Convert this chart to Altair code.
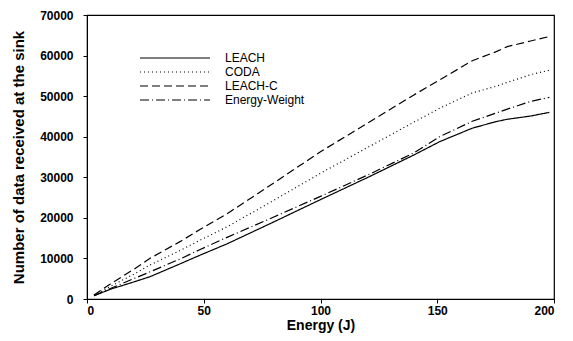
import altair as alt
import pandas as pd

energy = [3, 10, 20, 27, 40, 48, 60, 80, 100, 120, 140, 151, 165, 175, 180, 190, 198]
leach = [800, 2400, 4200, 5500, 8700, 10700, 13600, 19000, 24500, 29900, 35500, 38770, 42100, 43700, 44300, 45100, 46000]
coda = [900, 3100, 6100, 8380, 12000, 14370, 17800, 24300, 31000, 37300, 43600, 47000, 50800, 52400, 53400, 55300, 56400]
leach_c = [1000, 3700, 7300, 10020, 14200, 17000, 21000, 28600, 36300, 43300, 50300, 53980, 58740, 60900, 62200, 63600, 64700]
energy_weight = [800, 2600, 5000, 6700, 9900, 12080, 15200, 20200, 25300, 30500, 36000, 40000, 43800, 45800, 46800, 48700, 49700]

series_names = ["LEACH", "CODA", "LEACH-C", "Energy-Weight"]
series_values = [leach, coda, leach_c, energy_weight]
dashes = [[1, 0], [1, 3], [8, 4], [9, 3, 1, 3]]

rows = []
for name, vals in zip(series_names, series_values):
    for e, v in zip(energy, vals):
        rows.append({"Energy": e, "Value": v, "Series": name})
df = pd.DataFrame(rows)

font = "Liberation Sans"

chart = alt.Chart(df).mark_line(color="black", strokeWidth=1.2).encode(
    x=alt.X("Energy:Q", title="Energy (J)",
            scale=alt.Scale(domain=[0, 200], nice=False),
            axis=alt.Axis(values=[0, 50, 100, 150, 200], format="d", grid=False,
                          tickSize=4, labelPadding=2, titlePadding=2,
                          labelFontSize=12, titleFontSize=14)),
    y=alt.Y("Value:Q", title="Number of data received at the sink",
            scale=alt.Scale(domain=[0, 70000], nice=False),
            axis=alt.Axis(values=list(range(0, 70001, 10000)), format="d", grid=False,
                          tickSize=4, labelPadding=10, titlePadding=13,
                          labelFontSize=12, titleFontSize=15)),
    strokeDash=alt.StrokeDash("Series:N",
                              scale=alt.Scale(domain=series_names, range=dashes),
                              legend=alt.Legend(title=None, orient="none",
                                                legendX=80, legendY=35,
                                                symbolType="M-5,0L5,0", symbolSize=196,
                                                symbolStrokeColor="black",
                                                symbolStrokeWidth=1.1,
                                                labelFontSize=12, labelOffset=42,
                                                rowPadding=0, padding=0)),
    detail="Series:N",
).properties(
    width=467, height=284,
    padding={"left": 79, "top": 7, "right": 8, "bottom": 34},
    autosize=alt.AutoSizeParams(type="none"),
).configure_view(
    stroke="black", strokeWidth=1.2
).configure_axis(
    domainColor="black", tickColor="black", labelColor="black", titleColor="black",
    labelFont=font, titleFont=font, titleFontWeight="bold", labelFontWeight="bold"
).configure_legend(
    labelFont=font, labelColor="black"
)

chart.save("out.html", embed_options={"renderer": "svg", "actions": False})
